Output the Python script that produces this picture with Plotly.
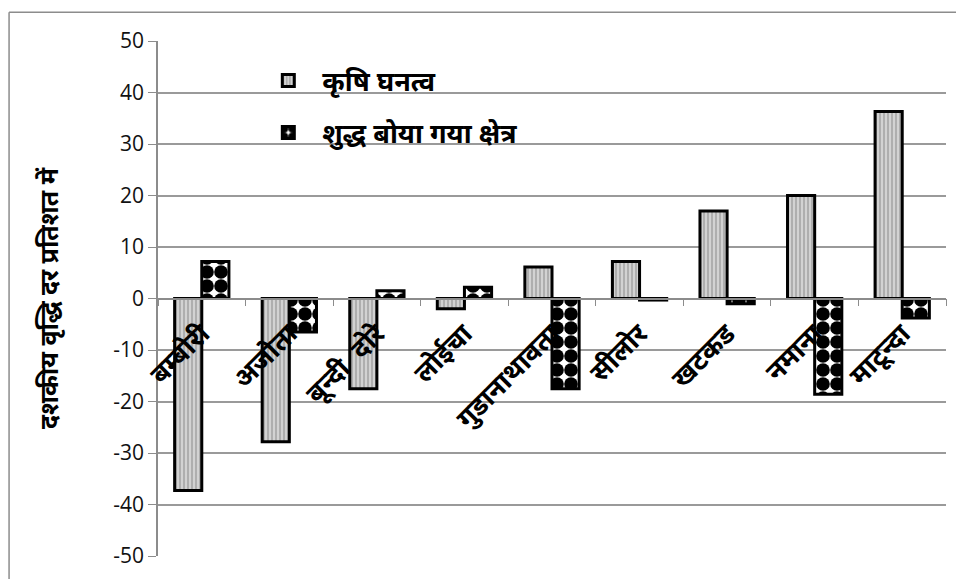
import plotly.graph_objects as go

# Villages and decadal growth rates (%)
villages = ["बम्बोरी", "अजोता", "बून्दी  दोरे", "लोईचा", "गुडानाथावता",
            "सीलोर", "खटकड", "नमाना", "माटून्दा"]
krishi_ghanatva = [-37.3, -27.8, -17.5, -2.0, 6.1, 7.2, 17.0, 20.0, 36.3]
shuddh_boya = [7.2, -6.5, 1.5, 2.2, -17.5, -0.3, -1.0, -18.6, -3.8]

series_names = ["कृषि घनत्व", "शुद्ध बोया गया क्षेत्र"]
y_ticks = [-50, -40, -30, -20, -10, 0, 10, 20, 30, 40, 50]
y_tick_text = [str(v) for v in y_ticks]

FONT = "'Open Sans', 'Noto Sans', sans-serif"
PAD = "\u00a0\u00a0"

fig = go.Figure()
fig.add_trace(go.Bar(
    x=villages, y=krishi_ghanatva,
    name=PAD + "<b>" + series_names[0] + "</b>", legendgroup="a",
    marker=dict(color="#c8c8c8",
                line=dict(color="black", width=3),
                pattern=dict(shape="|", fgcolor="#8a8a8a", bgcolor="#d2d2d2",
                             size=4, solidity=0.25, fgopacity=1)),
))
fig.add_trace(go.Bar(
    x=villages, y=shuddh_boya,
    name=PAD + "<b>" + series_names[1] + "</b>", legendgroup="b",
    marker=dict(color="white",
                line=dict(color="black", width=3),
                pattern=dict(shape=".", fgcolor="black", bgcolor="white",
                             size=14, solidity=0.75, fgopacity=1)),
))

fig.update_layout(
    width=956, height=579,
    margin=dict(l=158, r=10, t=41, b=21),
    paper_bgcolor="white", plot_bgcolor="white",
    barmode="group", bargap=0.38, bargroupgap=0.0,
    font=dict(family=FONT, color="black"),
    showlegend=True,
    legend=dict(x=0.14, y=0.97, xanchor="left", yanchor="top",
                bgcolor="rgba(0,0,0,0)", traceorder="grouped",
                tracegroupgap=14, itemwidth=30,
                font=dict(size=27, color="black", family=FONT)),
    xaxis=dict(
        anchor="free", position=0.5,
        showline=True, linecolor="#8c8c8c", linewidth=1.5,
        ticks="outside", ticklen=7, tickcolor="#8c8c8c", tickson="boundaries",
        tickangle=-45, tickfont=dict(size=27, color="black"),
        ticklabelstandoff=8,
        tickvals=villages, ticktext=["<b>" + v + "</b>" for v in villages],
        showgrid=False, zeroline=False,
    ),
    yaxis=dict(
        range=[-50, 50], tickvals=y_ticks, ticktext=y_tick_text,
        showline=True, linecolor="#8c8c8c", linewidth=1.5,
        ticks="outside", ticklen=8, tickcolor="#8c8c8c",
        showgrid=True, gridcolor="#9a9a9a", gridwidth=1.5,
        zeroline=False,
        tickfont=dict(size=21, color="#111"),
        title=dict(text="<b>दशकीय वृद्धि दर प्रतिशत में</b>",
                   font=dict(size=25, color="black"), standoff=48),
    ),
)

# Chart frame (left and top edges)
fig.add_shape(type="line", xref="paper", yref="paper",
              x0=-0.189, x1=-0.189, y0=-0.1, y1=1.056,
              line=dict(color="#8c8c8c", width=1.5))
fig.add_shape(type="line", xref="paper", yref="paper",
              x0=-0.189, x1=1.02, y0=1.056, y1=1.056,
              line=dict(color="#8c8c8c", width=1.5))

fig.write_html("out.html")
